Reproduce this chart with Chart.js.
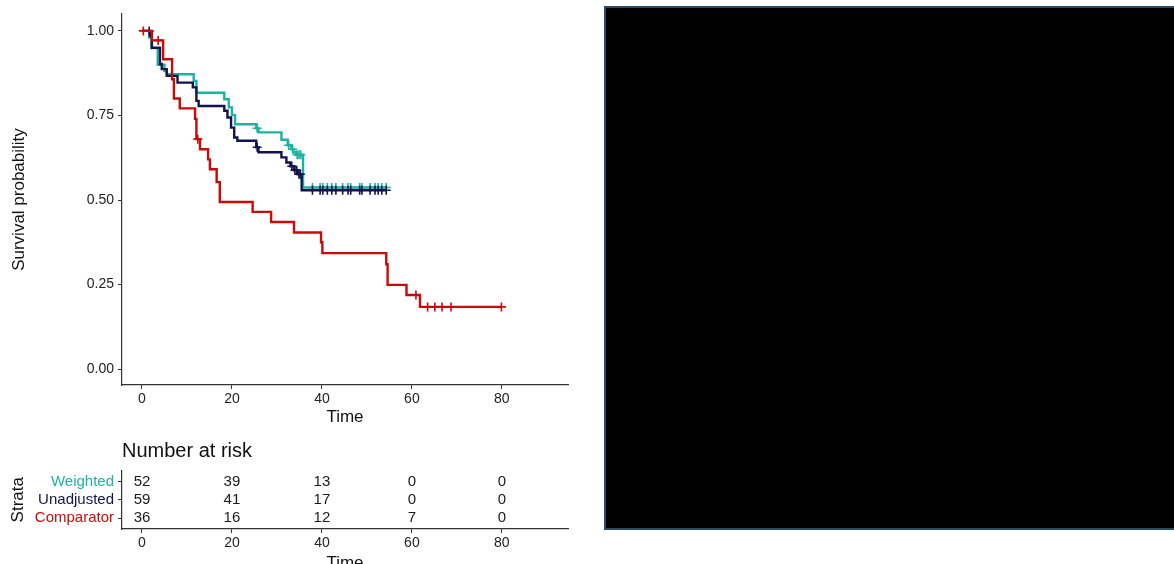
<!DOCTYPE html>
<html>
<head>
<meta charset="utf-8">
<script src="https://cdn.jsdelivr.net/npm/chart.js@4/dist/chart.umd.min.js"></script>
<style>
  html, body { margin: 0; padding: 0; background: #fff; width: 1174px; height: 564px; overflow: hidden; position: relative; }
  #km { position: absolute; left: 0; top: 0; width: 590px; height: 430px; }
  #risk { position: absolute; left: 0; top: 430px; width: 590px; height: 150px; }
  #panel { position: absolute; left: 604px; top: 6px; width: 580px; height: 520px; background: #000; border: 2px solid #2d4a68; }
</style>
</head>
<body>
<div id="km"><canvas id="kmCanvas"></canvas></div>
<div id="risk"><canvas id="riskCanvas"></canvas></div>
<div id="panel"></div>
<script>
// Strata and colours
const strataNames = ['Weighted', 'Unadjusted', 'Comparator'];
const strataColors = ['#1db3a2', '#13134f', '#c70a0a'];

// Axis ticks
const xTicks = [0, 20, 40, 60, 80];
const yTicks = [0, 0.25, 0.5, 0.75, 1];

// Kaplan-Meier step points: time at which survival changes, and the new survival value
const weightedTime = [0, 1.6, 2.1, 3.5, 5.0, 5.5, 11.5, 12.1, 18.3, 19.3, 20.0, 20.7, 25.4, 25.9, 31.0, 32.4, 33.2, 33.7, 34.2, 35.8, 54.3];
const weightedSurv = [1, 0.98, 0.949, 0.90, 0.881, 0.872, 0.852, 0.817, 0.798, 0.774, 0.751, 0.724, 0.712, 0.70, 0.678, 0.662, 0.65, 0.641, 0.634, 0.537, 0.537];
const weightedCensor = [25.6, 32.6, 33.5, 34.5, 34.9, 35.3, 37.9, 39.6, 40.2, 41.2, 42.2, 43.1, 44.6, 45.8, 46.4, 48.4, 48.9, 50.7, 51.8, 52.5, 53.3, 54.3];

const unadjustedTime = [0, 1.8, 2.2, 4.0, 4.4, 5.5, 7.9, 11.3, 12.1, 12.6, 18.3, 19.0, 19.8, 20.5, 21.2, 25.4, 25.9, 31.0, 32.1, 33.0, 33.8, 34.6, 35.5, 54.3];
const unadjustedSurv = [1, 0.985, 0.95, 0.902, 0.887, 0.867, 0.847, 0.833, 0.793, 0.778, 0.764, 0.744, 0.714, 0.685, 0.675, 0.656, 0.641, 0.626, 0.611, 0.60, 0.588, 0.576, 0.529, 0.529];
const unadjustedCensor = [1.6, 25.6, 33.3, 34.0, 34.4, 34.9, 35.2, 37.9, 39.6, 40.2, 41.2, 42.2, 43.1, 44.6, 45.8, 46.4, 48.4, 48.9, 50.7, 51.8, 52.5, 53.3, 54.3];

const comparatorTime = [0, 2.2, 4.7, 6.7, 7.1, 8.4, 11.8, 12.1, 12.9, 14.7, 15.1, 16.6, 17.3, 24.6, 28.7, 33.8, 39.8, 40.1, 54.3, 54.6, 58.8, 61.8, 79.9];
const comparatorSurv = [1, 0.972, 0.916, 0.857, 0.80, 0.771, 0.74, 0.68, 0.65, 0.62, 0.591, 0.553, 0.494, 0.465, 0.435, 0.404, 0.375, 0.343, 0.31, 0.249, 0.219, 0.184, 0.184];
const comparatorCensor = [0.3, 3.6, 12.4, 60.9, 63.5, 65.1, 66.7, 68.7, 79.9];

// Number at risk table
const riskTimes = [0, 20, 40, 60, 80];
const riskWeighted = [52, 39, 13, 0, 0];
const riskUnadjusted = [59, 41, 17, 0, 0];
const riskComparator = [36, 16, 12, 7, 0];

Chart.defaults.font.family = "'Liberation Sans', Arial, sans-serif";
Chart.defaults.color = '#222';

const AXIS = '#333';

// survival value of a step function at time t
function survAt(times, surv, t) {
  let s = surv[0];
  for (let i = 0; i < times.length; i++) if (times[i] <= t) s = surv[i];
  return s;
}

const curves = [
  { times: weightedTime, surv: weightedSurv, censor: weightedCensor, order: 2 },
  { times: unadjustedTime, surv: unadjustedSurv, censor: unadjustedCensor, order: 1 },
  { times: comparatorTime, surv: comparatorSurv, censor: comparatorCensor, order: 0 }
];

const kmDatasets = [];
curves.forEach((c, k) => {
  kmDatasets.push({
    label: strataNames[k],
    data: c.times.map((t, i) => ({ x: t, y: c.surv[i] })),
    stepped: 'before',
    borderColor: strataColors[k],
    borderWidth: 2.4,
    pointRadius: 0,
    fill: false,
    order: c.order
  });
  kmDatasets.push({
    label: strataNames[k] + ' censored',
    data: c.censor.map(t => ({ x: t, y: survAt(c.times, c.surv, t) })),
    showLine: false,
    pointStyle: 'cross',
    pointRadius: 4.5,
    pointBorderWidth: 1.6,
    borderColor: strataColors[k],
    pointBorderColor: strataColors[k],
    order: c.order
  });
});

const xRange = { min: -4.44, max: 94.7 };

function xAxis(height, titleBottom) {
  return {
    type: 'linear',
    min: xRange.min,
    max: xRange.max,
    afterBuildTicks: s => { s.ticks = xTicks.map(v => ({ value: v })); },
    afterFit: s => { s.height = height; },
    ticks: { font: { size: 14 }, color: '#222', padding: 2, maxRotation: 0, autoSkip: false, callback: v => String(v) },
    grid: { drawOnChartArea: false, drawTicks: true, tickLength: 4, color: AXIS, lineWidth: 1 },
    border: { display: true, color: AXIS, width: 1.2 },
    title: { display: true, text: 'Time', font: { size: 17 }, color: '#111', padding: { top: 0, bottom: titleBottom } }
  };
}

new Chart(document.getElementById('kmCanvas'), {
  type: 'line',
  data: { datasets: kmDatasets },
  options: {
    responsive: true,
    maintainAspectRatio: false,
    animation: false,
    layout: { padding: { left: 0, top: 14, right: 22, bottom: 0 } },
    plugins: { legend: { display: false }, tooltip: { enabled: false } },
    scales: {
      x: xAxis(45, 2.3),
      y: {
        type: 'linear',
        min: -0.047,
        max: 1.05,
        afterBuildTicks: s => { s.ticks = yTicks.map(v => ({ value: v })); },
        afterFit: s => { s.width = 122; },
        ticks: { font: { size: 14 }, color: '#222', padding: 4, callback: v => v.toFixed(2) },
        grid: { drawOnChartArea: false, drawTicks: true, tickLength: 4, color: AXIS, lineWidth: 1 },
        border: { display: true, color: AXIS, width: 1.2 },
        title: { display: true, text: 'Survival probability', font: { size: 17 }, color: '#111', padding: { top: 8.8, bottom: 0 } }
      }
    }
  }
});

// risk table rows: Weighted on top (3), Comparator at the bottom (1)
const riskRows = [riskWeighted, riskUnadjusted, riskComparator];
const riskDatasets = riskRows.map((counts, k) => ({
  label: strataNames[k],
  data: riskTimes.map((t, i) => ({ x: t, y: 3 - k, n: counts[i] })),
  showLine: false,
  pointRadius: 0
}));

const riskText = {
  id: 'riskText',
  afterDatasetsDraw(chart) {
    const ctx = chart.ctx;
    ctx.save();
    ctx.font = "15px 'Liberation Sans', Arial, sans-serif";
    ctx.fillStyle = '#1a1a1a';
    ctx.textAlign = 'center';
    ctx.textBaseline = 'middle';
    chart.data.datasets.forEach((ds, di) => {
      const meta = chart.getDatasetMeta(di);
      meta.data.forEach((pt, i) => {
        ctx.fillText(String(ds.data[i].n), pt.x, pt.y);
      });
    });
    ctx.restore();
  }
};

new Chart(document.getElementById('riskCanvas'), {
  type: 'line',
  data: { datasets: riskDatasets },
  plugins: [riskText],
  options: {
    responsive: true,
    maintainAspectRatio: false,
    animation: false,
    layout: { padding: { left: 0, top: 0, right: 22, bottom: 0 } },
    plugins: {
      legend: { display: false },
      tooltip: { enabled: false },
      title: {
        display: true,
        text: 'Number at risk',
        align: 'start',
        fullSize: false,
        font: { size: 20, weight: 'normal' },
        color: '#111',
        padding: { top: 9, bottom: 7.5 }
      }
    },
    scales: {
      x: xAxis(51, 6.5),
      y: {
        type: 'linear',
        min: 0.4,
        max: 3.6,
        afterBuildTicks: s => { s.ticks = [1, 2, 3].map(v => ({ value: v })); },
        afterFit: s => { s.width = 122; },
        ticks: {
          font: { size: 15 },
          padding: 4,
          color: c => strataColors[3 - c.tick.value],
          callback: v => strataNames[3 - v]
        },
        grid: { drawOnChartArea: false, drawTicks: true, tickLength: 4, color: AXIS, lineWidth: 1 },
        border: { display: true, color: AXIS, width: 1.2 },
        title: { display: true, text: 'Strata', font: { size: 17 }, color: '#111', padding: { top: 8, bottom: 0 } }
      }
    }
  }
});
</script>
</body>
</html>
